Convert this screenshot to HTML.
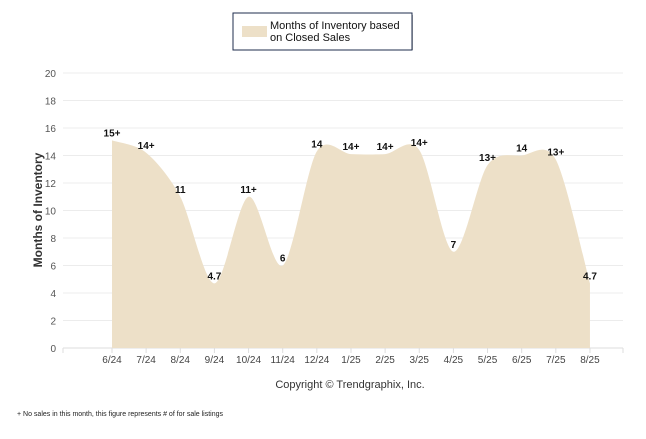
<!DOCTYPE html><html><head><meta charset="utf-8"><style>body{margin:0;background:#fff;font-family:"Liberation Sans",sans-serif}</style></head><body>
<svg width="646" height="434" xmlns="http://www.w3.org/2000/svg" font-family="Liberation Sans, sans-serif">
<g>
<rect x="235" y="15" width="178" height="35" fill="#bbb" />
<rect x="233" y="13" width="179" height="37" fill="#fff" stroke="#1f2d4d" stroke-width="1"/>
<rect x="242" y="26" width="25" height="11" fill="#ede0c8"/>
<text x="270" y="29" font-size="11" fill="#111">Months of Inventory based</text>
<text x="270" y="41" font-size="11" fill="#111">on Closed Sales</text>
</g>
<g id="grid"></g><g id="area"></g><g id="labels"></g>
<text transform="translate(42,210) rotate(-90)" text-anchor="middle" font-size="12" font-weight="bold" fill="#333">Months of Inventory</text>
<text x="350" y="388" text-anchor="middle" font-size="11" fill="#333">Copyright © Trendgraphix, Inc.</text>
<text x="17" y="416" font-size="7" fill="#222">+  No sales in this month, this figure represents # of for sale listings</text>
</svg>
<script>
const categories=["6/24","7/24","8/24","9/24","10/24","11/24","12/24","1/25","2/25","3/25","4/25","5/25","6/25","7/25","8/25"];
const values=[15.1,14.2,11,4.7,11,6,14.3,14.1,14.1,14.4,7,13.3,14,13.7,4.7];
const valueLabels=["15+","14+","11","4.7","11+","6","14","14+","14+","14+","7","13+","14","13+","4.7"];
const yTicks=[0,2,4,6,8,10,12,14,16,18,20];
const NS="http://www.w3.org/2000/svg";
const x=i=>112+i*34.14, y=v=>348-v*13.75;
function mk(t,a,p){const e=document.createElementNS(NS,t);for(const k in a)e.setAttribute(k,a[k]);p.appendChild(e);return e;}
const g=document.getElementById('grid');
yTicks.forEach(t=>{const l=mk('line',{x1:63,x2:623,y1:y(t),y2:y(t),stroke:t?'#ececec':'#ddd'},g);


const tx=mk('text',{x:56,y:y(t)+4,'text-anchor':'end','font-size':10,fill:'#555'},g);tx.textContent=t;

});
[63,623].concat(categories.map((c,i)=>x(i))).forEach(px=>mk('line',{x1:px,x2:px,y1:348,y2:353,stroke:'#ddd'},g));
categories.forEach((c,i)=>{const t=mk('text',{x:x(i),y:363,'text-anchor':'middle','font-size':10,fill:'#444'},g);t.textContent=c;

});
const P=values.map((v,i)=>[x(i),y(v)]);
let d=`M${P[0][0]},348 L${P[0][0]},${P[0][1]}`;
for(let i=0;i<P.length-1;i++){const p0=P[Math.max(i-1,0)],p1=P[i],p2=P[i+1],p3=P[Math.min(i+2,P.length-1)];
const k=0.15;d+=` C${p1[0]+(p2[0]-p0[0])*k},${p1[1]+(p2[1]-p0[1])*k} ${p2[0]-(p3[0]-p1[0])*k},${p2[1]-(p3[1]-p1[1])*k} ${p2[0]},${p2[1]}`;}
d+=` L${P[P.length-1][0]},348 Z`;
const a=mk('path',{d:d,fill:'#ede0c8'},document.getElementById('area'));


const L=document.getElementById('labels');
valueLabels.forEach((s,i)=>{const t=mk('text',{x:x(i),y:y(values[i])-4,'text-anchor':'middle','font-size':10,'font-weight':'bold',fill:'#111'},L);t.textContent=s;

});
</script></body></html>
